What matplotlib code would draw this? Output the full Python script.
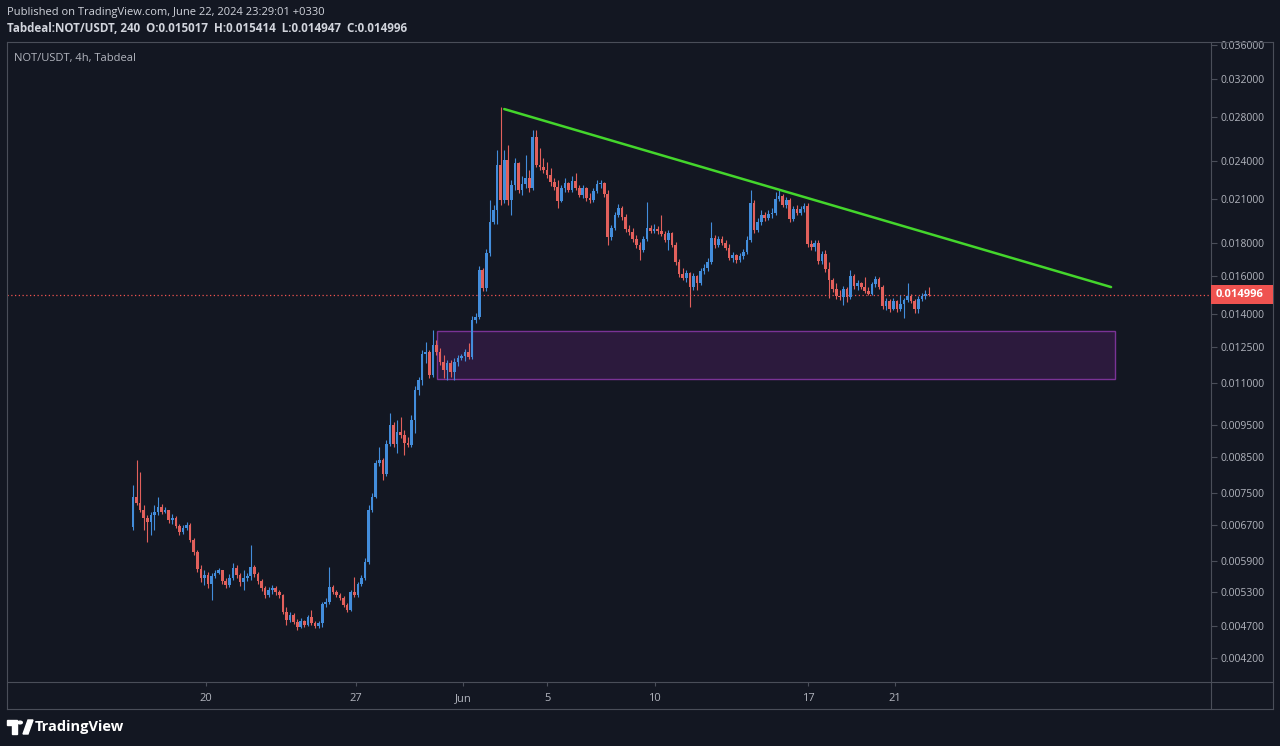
import matplotlib
matplotlib.use('Agg')
import matplotlib.pyplot as plt
import numpy as np
from matplotlib.patches import Rectangle, Polygon, Circle
from matplotlib.lines import Line2D
from matplotlib.ticker import FixedLocator, NullLocator, FuncFormatter

plt.rcParams['font.family'] = ['Open Sans', 'DejaVu Sans']

# 4h candles NOT/USDT (Tabdeal), open of each bar = previous close
first_open = 0.00664
closes = [
    0.00738, 0.00723, 0.00705, 0.00686, 0.00676, 0.00693, 0.00700, 0.00713, 0.00700, 0.00705,
    0.00681, 0.00686, 0.00667, 0.00653, 0.00662, 0.00669, 0.00635, 0.00609, 0.00573, 0.00556,
    0.00562, 0.00544, 0.00560, 0.00566, 0.00572, 0.00550, 0.00542, 0.00556, 0.00575, 0.00562,
    0.00548, 0.00556, 0.00560, 0.00578, 0.00564, 0.00550, 0.00536, 0.00524, 0.00533, 0.00536,
    0.00529, 0.00524, 0.00493, 0.00480, 0.00488, 0.00476, 0.00468, 0.00478, 0.00471, 0.00485,
    0.00475, 0.00470, 0.00474, 0.00507, 0.00511, 0.00538, 0.00529, 0.00524, 0.00518, 0.00505,
    0.00497, 0.00529, 0.00524, 0.00544, 0.00556, 0.00588, 0.00705, 0.00738, 0.00832, 0.00841,
    0.00800, 0.00889, 0.00950, 0.00889, 0.00927, 0.00917, 0.00892, 0.00886, 0.00967, 0.01074,
    0.01113, 0.01219, 0.01227, 0.01132, 0.01258, 0.01227, 0.01185, 0.01152, 0.01181, 0.01144,
    0.01185, 0.01201, 0.01210, 0.01227, 0.01206, 0.01373, 0.01387, 0.01636, 0.01535, 0.01736,
    0.01936, 0.02019, 0.02364, 0.02091, 0.02406, 0.02091, 0.02204, 0.02380, 0.02166, 0.02211,
    0.02258, 0.02180, 0.02607, 0.02364, 0.02347, 0.02323, 0.02282, 0.02227, 0.02188, 0.02084,
    0.02180, 0.02219, 0.02166, 0.02235, 0.02180, 0.02128, 0.02180, 0.02105, 0.02091, 0.02158,
    0.02211, 0.02219, 0.02135, 0.01836, 0.01895, 0.01984, 0.02032, 0.01969, 0.01888, 0.01869,
    0.01823, 0.01786, 0.01755, 0.01823, 0.01895, 0.01876, 0.01888, 0.01876, 0.01856, 0.01817,
    0.01862, 0.01786, 0.01682, 0.01613, 0.01590, 0.01619, 0.01541, 0.01602, 0.01563, 0.01630,
    0.01647, 0.01682, 0.01830, 0.01786, 0.01823, 0.01798, 0.01767, 0.01706, 0.01724, 0.01694,
    0.01718, 0.01743, 0.01817, 0.02069, 0.01882, 0.01936, 0.01984, 0.01962, 0.01991, 0.01998,
    0.02097, 0.02120, 0.02054, 0.02091, 0.01955, 0.02025, 0.01998, 0.02025, 0.02047, 0.01792,
    0.01773, 0.01798, 0.01688, 0.01730, 0.01641, 0.01580, 0.01530, 0.01493, 0.01488, 0.01530,
    0.01488, 0.01602, 0.01547, 0.01563, 0.01541, 0.01520, 0.01504, 0.01558, 0.01585, 0.01541,
    0.01442, 0.01467, 0.01426, 0.01467, 0.01426, 0.01452, 0.01473, 0.01493, 0.01467, 0.01426,
    0.01477, 0.01493, 0.015017, 0.014996,
]
highs = [
    0.00770, 0.00841, 0.00806, 0.00718, 0.00693, 0.00700, 0.00718, 0.00738, 0.00720, 0.00712,
    0.00705, 0.00696, 0.00691, 0.00672, 0.00669, 0.00676, 0.00674, 0.00639, 0.00613, 0.00582,
    0.00572, 0.00568, 0.00566, 0.00572, 0.00576, 0.00570, 0.00556, 0.00564, 0.00586, 0.00582,
    0.00566, 0.00572, 0.00566, 0.00624, 0.00582, 0.00568, 0.00554, 0.00540, 0.00538, 0.00542,
    0.00540, 0.00533, 0.00525, 0.00502, 0.00493, 0.00492, 0.00481, 0.00483, 0.00480, 0.00488,
    0.00497, 0.00478, 0.00478, 0.00511, 0.00518, 0.00578, 0.00542, 0.00533, 0.00527, 0.00522,
    0.00509, 0.00533, 0.00558, 0.00548, 0.00562, 0.00596, 0.00718, 0.00749, 0.00841, 0.00880,
    0.00846, 0.00902, 0.00991, 0.00960, 0.00967, 0.00977, 0.00934, 0.00911, 0.00984, 0.01089,
    0.01124, 0.01236, 0.01271, 0.01236, 0.01326, 0.01280, 0.01244, 0.01214, 0.01193, 0.01193,
    0.01201, 0.01214, 0.01220, 0.01240, 0.01267, 0.01392, 0.01407, 0.01659, 0.01647, 0.01760,
    0.02091, 0.02054, 0.02492, 0.02897, 0.02492, 0.02535, 0.02243, 0.02422, 0.02389, 0.02274,
    0.02448, 0.02323, 0.02673, 0.02673, 0.02508, 0.02422, 0.02389, 0.02338, 0.02258, 0.02243,
    0.02204, 0.02258, 0.02227, 0.02274, 0.02298, 0.02204, 0.02204, 0.02188, 0.02143, 0.02180,
    0.02243, 0.02243, 0.02227, 0.02166, 0.01915, 0.02005, 0.02062, 0.02047, 0.01991, 0.01915,
    0.01895, 0.01849, 0.01805, 0.01843, 0.02076, 0.01915, 0.01922, 0.01908, 0.01984, 0.01876,
    0.01882, 0.01870, 0.01805, 0.01700, 0.01647, 0.01636, 0.01625, 0.01619, 0.01608, 0.01647,
    0.01671, 0.01706, 0.01936, 0.01849, 0.01843, 0.01843, 0.01817, 0.01792, 0.01743, 0.01730,
    0.01736, 0.01760, 0.01843, 0.02166, 0.02091, 0.01962, 0.02019, 0.02005, 0.02019, 0.02032,
    0.02150, 0.02166, 0.02135, 0.02112, 0.02105, 0.02047, 0.02054, 0.02047, 0.02069, 0.02069,
    0.01817, 0.01817, 0.01817, 0.01749, 0.01755, 0.01682, 0.01590, 0.01563, 0.01525, 0.01547,
    0.01541, 0.01636, 0.01612, 0.01580, 0.01569, 0.01596, 0.01541, 0.01569, 0.01602, 0.01596,
    0.01552, 0.01482, 0.01478, 0.01482, 0.01473, 0.01498, 0.01483, 0.01563, 0.01504, 0.01478,
    0.01493, 0.01509, 0.01525, 0.015414,
]
lows = [
    0.00658, 0.00718, 0.00700, 0.00658, 0.00631, 0.00646, 0.00658, 0.00693, 0.00696, 0.00697,
    0.00674, 0.00672, 0.00662, 0.00646, 0.00648, 0.00658, 0.00631, 0.00602, 0.00568, 0.00548,
    0.00542, 0.00536, 0.00515, 0.00556, 0.00563, 0.00544, 0.00536, 0.00538, 0.00552, 0.00556,
    0.00540, 0.00533, 0.00550, 0.00552, 0.00558, 0.00544, 0.00531, 0.00518, 0.00520, 0.00525,
    0.00524, 0.00518, 0.00490, 0.00471, 0.00476, 0.00473, 0.00463, 0.00466, 0.00468, 0.00470,
    0.00471, 0.00466, 0.00466, 0.00468, 0.00502, 0.00507, 0.00525, 0.00520, 0.00515, 0.00502,
    0.00493, 0.00495, 0.00520, 0.00520, 0.00540, 0.00552, 0.00584, 0.00700, 0.00735, 0.00823,
    0.00784, 0.00795, 0.00883, 0.00880, 0.00861, 0.00908, 0.00855, 0.00880, 0.00880, 0.00924,
    0.01055, 0.01093, 0.01181, 0.01120, 0.01124, 0.01214, 0.01173, 0.01120, 0.01113, 0.01124,
    0.01113, 0.01168, 0.01193, 0.01189, 0.01197, 0.01197, 0.01359, 0.01377, 0.01520, 0.01520,
    0.01718, 0.01922, 0.01922, 0.02054, 0.02069, 0.02054, 0.01984, 0.02166, 0.02143, 0.02128,
    0.02180, 0.02150, 0.02166, 0.02347, 0.02323, 0.02298, 0.02258, 0.02196, 0.02166, 0.02032,
    0.02076, 0.02150, 0.02150, 0.02150, 0.02166, 0.02112, 0.02105, 0.02084, 0.02069, 0.02076,
    0.02143, 0.02180, 0.02112, 0.01786, 0.01817, 0.01882, 0.01969, 0.01949, 0.01869, 0.01849,
    0.01805, 0.01767, 0.01694, 0.01743, 0.01811, 0.01862, 0.01862, 0.01856, 0.01843, 0.01805,
    0.01755, 0.01773, 0.01665, 0.01596, 0.01580, 0.01569, 0.01437, 0.01525, 0.01525, 0.01552,
    0.01613, 0.01630, 0.01671, 0.01767, 0.01773, 0.01786, 0.01755, 0.01694, 0.01682, 0.01677,
    0.01682, 0.01700, 0.01730, 0.01805, 0.01862, 0.01869, 0.01915, 0.01943, 0.01949, 0.01962,
    0.01984, 0.02084, 0.02040, 0.02032, 0.01936, 0.01943, 0.01984, 0.01984, 0.02005, 0.01773,
    0.01755, 0.01749, 0.01671, 0.01671, 0.01625, 0.01483, 0.01515, 0.01477, 0.01473, 0.01447,
    0.01462, 0.01477, 0.01530, 0.01525, 0.01530, 0.01509, 0.01498, 0.01498, 0.01541, 0.01530,
    0.01426, 0.01422, 0.01412, 0.01422, 0.01412, 0.01417, 0.01382, 0.01462, 0.01457, 0.01407,
    0.01407, 0.01467, 0.01477, 0.014947,
]
last_price = 0.014996

# bar index of the date labels on the time axis
time_tick_idx = [20.4, 62.5, 92.4, 116.0, 146.2, 189.1, 213.4]
time_tick_labels = ['20', '27', 'Jun', '5', '10', '17', '21']
price_ticks = [0.0042, 0.0047, 0.0053, 0.0059, 0.0067, 0.0075, 0.0085, 0.0095, 0.011,
               0.0125, 0.014, 0.016, 0.018, 0.021, 0.024, 0.028, 0.032, 0.036]

# drawings
trend_idx = [104, 274]
trend_price = [0.02876, 0.01541]
zone_idx = [85.3, 275]
zone_price = [0.01117, 0.01321]

BG = '#131722'
UP = '#438ddb'
DOWN = '#e2605c'
TXT = '#b2b5be'
FRAME = '#4a4e59'

W, H = 1280, 746
fig = plt.figure(figsize=(12.8, 7.46), dpi=100, facecolor=BG)


def fx(px):
    return px / W


def fy(py):
    return 1 - py / H


ax = fig.add_axes([fx(7), fy(682), fx(1211) - fx(7), fy(42) - fy(682)])
ax.set_facecolor(BG)
ax.set_yscale('log')
ax.set_xlim(-35.3, 302.0)
ax.set_ylim(0.003860, 0.03638)

o = np.array([first_open] + closes[:-1])
c = np.array(closes)
hi = np.array(highs)
lo = np.array(lows)
idx = np.arange(len(c))
cols = np.where(c >= o, UP, DOWN)

ax.vlines(idx, lo, hi, colors=cols, lw=0.8, zorder=3)
body_lo = np.minimum(o, c)
body_h = np.maximum(np.abs(c - o), body_lo * 0.003)
ax.bar(idx, body_h, bottom=body_lo, width=0.74, color=cols, lw=0, zorder=4)

# demand zone
ax.add_patch(Rectangle((zone_idx[0], zone_price[0]), zone_idx[1] - zone_idx[0],
                       zone_price[1] - zone_price[0], facecolor='#2c1a3d',
                       edgecolor='#7a3396', lw=1.0, zorder=2))

# trend line
ax.plot(trend_idx, trend_price, color='#44d62c', lw=1.8, solid_capstyle='round', zorder=5)

# last price line
ax.axhline(last_price, color='#ef5350', lw=0.9, ls=(0, (1, 2)), zorder=2)

for s in ax.spines.values():
    s.set_visible(False)

ax.yaxis.tick_right()
ax.yaxis.set_major_locator(FixedLocator(price_ticks))
ax.yaxis.set_minor_locator(NullLocator())
ax.yaxis.set_major_formatter(FuncFormatter(lambda v, p: f'{v:.6f}'))
ax.tick_params(axis='y', direction='out', length=4, width=0.8, color=FRAME,
               labelcolor=TXT, labelsize=7.5, pad=3)

ax.set_xticks(time_tick_idx)
ax.set_xticklabels(time_tick_labels)
ax.tick_params(axis='x', direction='out', length=3, width=0.8, color=FRAME,
               labelcolor=TXT, labelsize=8, pad=5)

# last price label on the price scale
y_disp = ax.transData.transform((0, last_price))[1]
y_fig = y_disp / fig.bbox.height
fig.add_artist(Rectangle((fx(1211), y_fig - 9.5 / H), 62 / W, 19 / H, facecolor='#ef5350',
                         edgecolor='none', transform=fig.transFigure, zorder=10))
fig.text(fx(1216), y_fig, '0.014996', color='white', fontsize=8, fontweight='bold',
         va='center', ha='left', zorder=11)

# chart frame
for (x0, y0, x1, y1) in [(7, 42, 1273, 42), (7, 709, 1273, 709), (7, 42, 7, 709),
                         (1273, 42, 1273, 709), (7, 682, 1273, 682), (1211, 42, 1211, 709)]:
    fig.add_artist(Line2D([fx(x0), fx(x1)], [fy(y0), fy(y1)], color=FRAME, lw=0.8))

fig.text(fx(7), fy(12), 'Published on TradingView.com, June 22, 2024 23:29:01 +0330',
         color='#d1d4dc', fontsize=8, va='center', ha='left')
fig.text(fx(7), fy(28), 'Tabdeal:NOT/USDT, 240  O:0.015017  H:0.015414  L:0.014947  C:0.014996',
         color='#d1d4dc', fontsize=8.4, fontweight='bold', va='center', ha='left')
fig.text(fx(14), fy(58), 'NOT/USDT, 4h, Tabdeal', color=TXT, fontsize=8, va='center', ha='left')

# TradingView logo
fig.add_artist(Polygon([(fx(7), fy(720)), (fx(17), fy(720)), (fx(17), fy(734)),
                        (fx(12), fy(734)), (fx(12), fy(725)), (fx(7), fy(725))],
                       closed=True, color='white', transform=fig.transFigure))
fig.add_artist(Circle((fx(20), fy(722.5)), 2.3 / W, color='white', transform=fig.transFigure))
fig.add_artist(Polygon([(fx(23), fy(734)), (fx(28), fy(720)), (fx(33), fy(720)), (fx(28), fy(734))],
                       closed=True, color='white', transform=fig.transFigure))
fig.text(fx(35), fy(727), 'TradingView', color='white', fontsize=10.5, fontweight='bold',
         va='center', ha='left')

fig.savefig('out.png', dpi=100, facecolor=BG)
